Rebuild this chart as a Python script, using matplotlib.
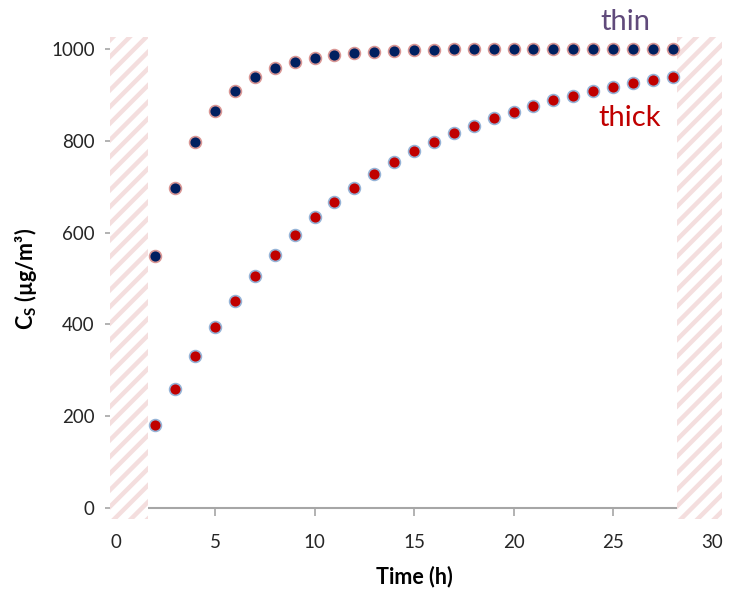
import matplotlib
matplotlib.use("Agg")
import matplotlib.pyplot as plt
from matplotlib.patches import Rectangle

plt.rcParams['font.family'] = ['Lato', 'DejaVu Sans']
plt.rcParams['mathtext.fontset'] = 'custom'
plt.rcParams['mathtext.rm'] = 'Lato'
plt.rcParams['mathtext.bf'] = 'Lato:bold'
plt.rcParams['hatch.linewidth'] = 3.2

time_h = list(range(2, 29))
thin = [550, 698, 797, 864, 908, 938, 958, 972, 981, 987, 991, 994, 996, 997,
        998, 999, 999, 1000, 1000, 1000, 1000, 1000, 1000, 1000, 1000, 1000, 1000]
thick = [180, 260, 332, 395, 452, 505, 552, 595, 633, 666, 698, 728, 754, 777,
         797, 816, 833, 849, 863, 876, 888, 898, 908, 917, 925, 932, 938]
x_ticks = [0, 5, 10, 15, 20, 25, 30]
y_ticks = [0, 200, 400, 600, 800, 1000]

fig = plt.figure(figsize=(7.36, 5.89), dpi=100)
ax = fig.add_axes([115.5/736, 1-508/589, (712.5-115.5)/736, (508-49)/589])
ax.set_xlim(0, 30)
ax.set_ylim(0, 1000)

for s in ['top', 'right', 'left', 'bottom']:
    ax.spines[s].set_visible(False)
ax.plot([1.63, 28.2], [0, 0], color='#A6A6A6', lw=1.5, clip_on=False, zorder=1)

ax.set_xticks(x_ticks)
ax.set_yticks(y_ticks)
ax.tick_params(axis='x', length=6, width=1.2, color='#A6A6A6', labelsize=13.5,
               labelcolor='#262626', pad=13)
ax.tick_params(axis='y', length=7, width=1.2, color='#A6A6A6', labelsize=13.5,
               labelcolor='#262626', pad=8)

# hatched excluded regions
for x0, x1 in [(-0.28, 1.63), (28.2, 30.5)]:
    r = Rectangle((x0, -25), x1 - x0, 1051, facecolor='white', edgecolor='#F4DEDE',
                  hatch='//', linewidth=0, clip_on=False, zorder=3)
    ax.add_patch(r)

ax.plot(time_h, thin, 'o', ms=8.5, mfc='#002060', mec='#D99694', mew=1.2,
        clip_on=False, zorder=4)
ax.plot(time_h, thick, 'o', ms=8.5, mfc='#C00000', mec='#95B3D7', mew=1.2,
        clip_on=False, zorder=4)

fig.text(625/736, 1-22/589, 'thin', color='#604A7B', fontsize=21, ha='center', va='center')
fig.text(630/736, 1-118/589, 'thick', color='#C00000', fontsize=21, ha='center', va='center')

ax.set_xlabel('Time (h)', fontsize=15.5, fontweight='bold', labelpad=10)
ax.set_ylabel(r'C$_{\mathbf{S}}$ (µg/m³)', fontsize=15.5, fontweight='bold', labelpad=9)

fig.savefig('out.png', dpi=100)
